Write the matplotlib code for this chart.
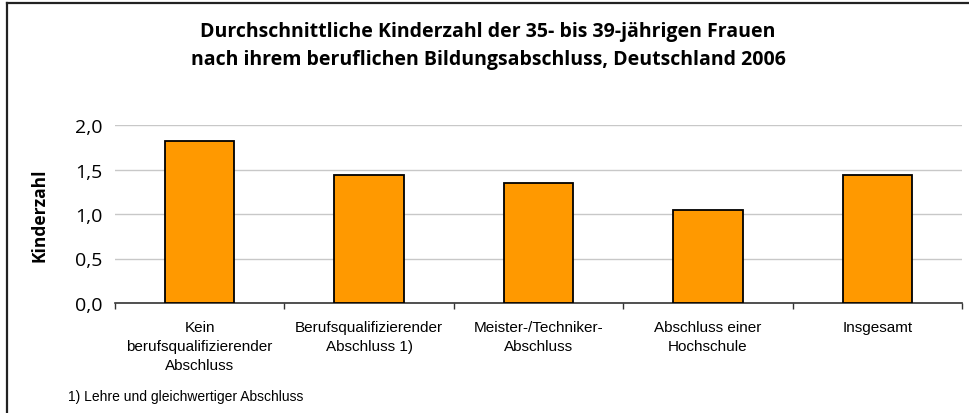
import numpy as np
import matplotlib
matplotlib.use("Agg")
import matplotlib.pyplot as plt
from matplotlib.lines import Line2D

categories = [
    "Kein\nberufsqualifizierender\nAbschluss",
    "Berufsqualifizierender\nAbschluss 1)",
    "Meister-/Techniker-\nAbschluss",
    "Abschluss einer\nHochschule",
    "Insgesamt",
]
kinderzahl = [1.82, 1.44, 1.35, 1.04, 1.44]
yticks = [0.0, 0.5, 1.0, 1.5, 2.0]
ytick_labels = ["0,0", "0,5", "1,0", "1,5", "2,0"]

title = ("Durchschnittliche Kinderzahl der 35- bis 39-jährigen Frauen\n"
         "nach ihrem beruflichen Bildungsabschluss, Deutschland 2006")
footnote = "1) Lehre und gleichwertiger Abschluss"

W, H = 969, 414
fig = plt.figure(figsize=(W / 100, H / 100), dpi=100)
ax = fig.add_axes([115 / W, 1 - 304 / H, (962 - 115) / W, (304 - 126) / H])

x = np.arange(len(categories))
ax.bar(x, kinderzahl, width=0.41, color="#FF9900", edgecolor="black",
       linewidth=1.3, zorder=3)

ax.set_xlim(-0.5, len(categories) - 0.5)
ax.set_ylim(0, 2.0)
ax.set_yticks(yticks)
ax.set_yticklabels(ytick_labels, family="Open Sans", fontsize=14)
ax.yaxis.grid(True, color="#C8C8C8", linewidth=1.0, zorder=0)
ax.tick_params(axis="y", length=0, pad=9)

ax.set_xticks(x)
ax.set_xticklabels(categories, family="Liberation Sans", fontsize=11,
                   linespacing=1.45)
ax.set_xticks(np.arange(-0.5, len(categories)), minor=True)
ax.tick_params(axis="x", which="major", length=0, pad=12)
ax.tick_params(axis="x", which="minor", length=4, width=1, color="#333333")

for s in ("top", "right", "left"):
    ax.spines[s].set_visible(False)
ax.spines["bottom"].set_color("#333333")
ax.spines["bottom"].set_linewidth(1.2)

ax.set_ylabel("Kinderzahl", family="Open Sans", fontweight="bold",
              fontsize=12.5, labelpad=19)

fig.text(488 / W, 1 - 46 / H, title, ha="center", va="center",
         family="Open Sans", fontweight="bold", fontsize=14, linespacing=1.55)
fig.text(68 / W, 1 - 397 / H, footnote, ha="left", va="center",
         family="Liberation Sans", fontsize=10)

# outer frame (top and left edges visible only)
fig.add_artist(Line2D([7 / W, 7 / W], [0, 1 - 4 / H], transform=fig.transFigure,
                      color="#222222", linewidth=1.6))
fig.add_artist(Line2D([7 / W, 1], [1 - 4 / H, 1 - 4 / H], transform=fig.transFigure,
                      color="#222222", linewidth=1.6))

fig.savefig("out.png", dpi=100)
